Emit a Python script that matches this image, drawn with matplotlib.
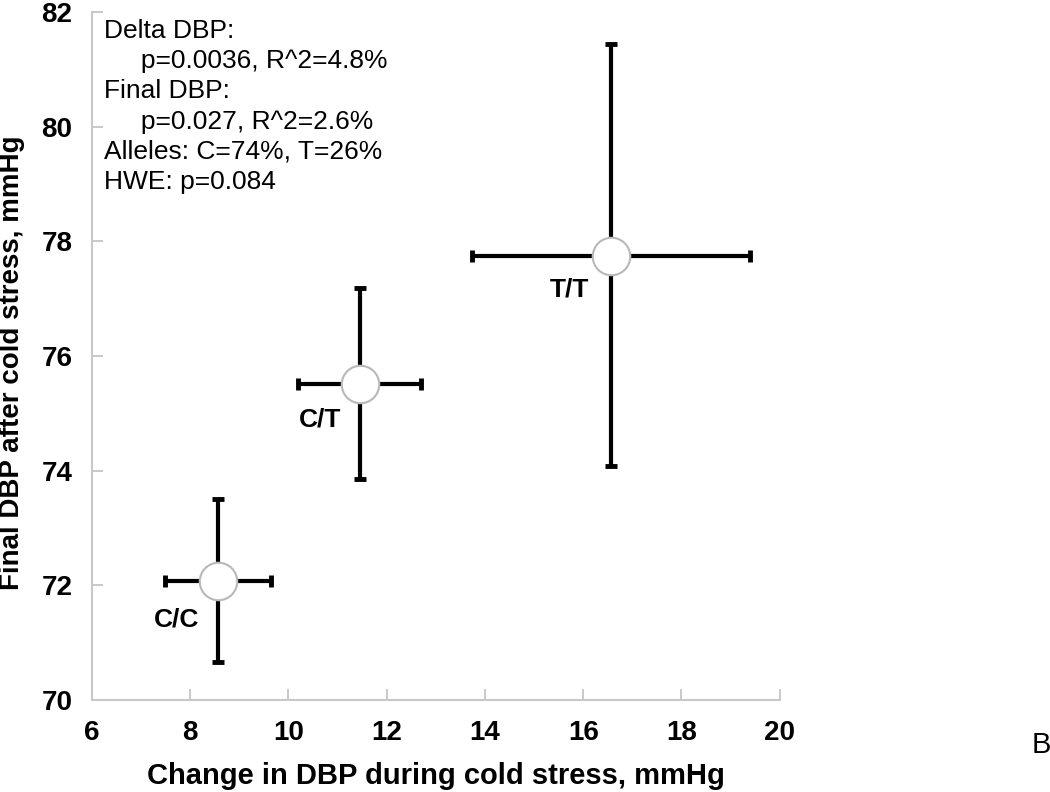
import matplotlib
matplotlib.use("Agg")
import matplotlib.pyplot as plt

# genotype groups
genotypes = ["C/C", "C/T", "T/T"]
delta_dbp = [8.57, 11.46, 16.57]
delta_lo = [7.49, 10.20, 13.74]
delta_hi = [9.64, 12.70, 19.40]
final_dbp = [72.08, 75.52, 77.75]
final_lo = [70.66, 73.86, 74.09]
final_hi = [73.51, 77.18, 81.44]

x_ticks = [6, 8, 10, 12, 14, 16, 18, 20]
y_ticks = [70, 72, 74, 76, 78, 80, 82]

stats_lines = ["Delta DBP:", "     p=0.0036, R^2=4.8%", "Final DBP:",
               "     p=0.027, R^2=2.6%", "Alleles: C=74%, T=26%", "HWE: p=0.084"]

plain = ["Liberation Sans", "DejaVu Sans"]

fig = plt.figure(figsize=(10.5, 7.92), dpi=100)
ax = fig.add_axes([0.0876, 0.116, 0.655, 0.869])

xerr = [[m - lo for m, lo in zip(delta_dbp, delta_lo)],
        [hi - m for m, hi in zip(delta_dbp, delta_hi)]]
yerr = [[m - lo for m, lo in zip(final_dbp, final_lo)],
        [hi - m for m, hi in zip(final_dbp, final_hi)]]
ax.errorbar(delta_dbp, final_dbp, xerr=xerr, yerr=yerr, fmt="none",
            ecolor="black", elinewidth=3, capsize=4, capthick=3.5, zorder=2)
ax.plot(delta_dbp, final_dbp, "o", ms=27, mfc="white", mec="#b8b8b8",
        mew=1.5, zorder=3)

# genotype labels sit below-left of each point
label_offsets = [(-0.85, -0.67), (-0.82, -0.62), (-0.85, -0.59)]
for g, x, y, (dx, dy) in zip(genotypes, delta_dbp, final_dbp, label_offsets):
    ax.text(x + dx, y + dy, g, ha="center", va="center", fontsize=19,
            fontweight="bold", family=plain)

ax.text(0.018, 0.99, "\n".join(stats_lines), transform=ax.transAxes,
        ha="left", va="top", fontsize=19, family=plain, linespacing=1.33)

ax.set_xlim(6, 20)
ax.set_ylim(70, 82)
ax.set_xticks(x_ticks)
ax.set_yticks(y_ticks)
for lab in ax.get_xticklabels() + ax.get_yticklabels():
    lab.set_fontweight("bold")
    lab.set_fontsize(20)
    lab.set_family(plain)
ax.tick_params(direction="in", length=8, color="#c0c0c0", width=1.2, pad=14)

for side in ["top", "right"]:
    ax.spines[side].set_visible(False)
for side in ["left", "bottom"]:
    ax.spines[side].set_color("#c8c8c8")
    ax.spines[side].set_linewidth(1.5)

ax.set_xlabel("Change in DBP during cold stress, mmHg", fontsize=21,
              fontweight="bold", family=plain, labelpad=12)
ax.set_ylabel("Final DBP after cold stress, mmHg", fontsize=20,
              fontweight="bold", family=plain)
ax.yaxis.set_label_coords(-0.097, 0.49)

fig.text(0.992, 0.059, "B", fontsize=21, family=plain, ha="center", va="center")

fig.savefig("out.png", dpi=100)
